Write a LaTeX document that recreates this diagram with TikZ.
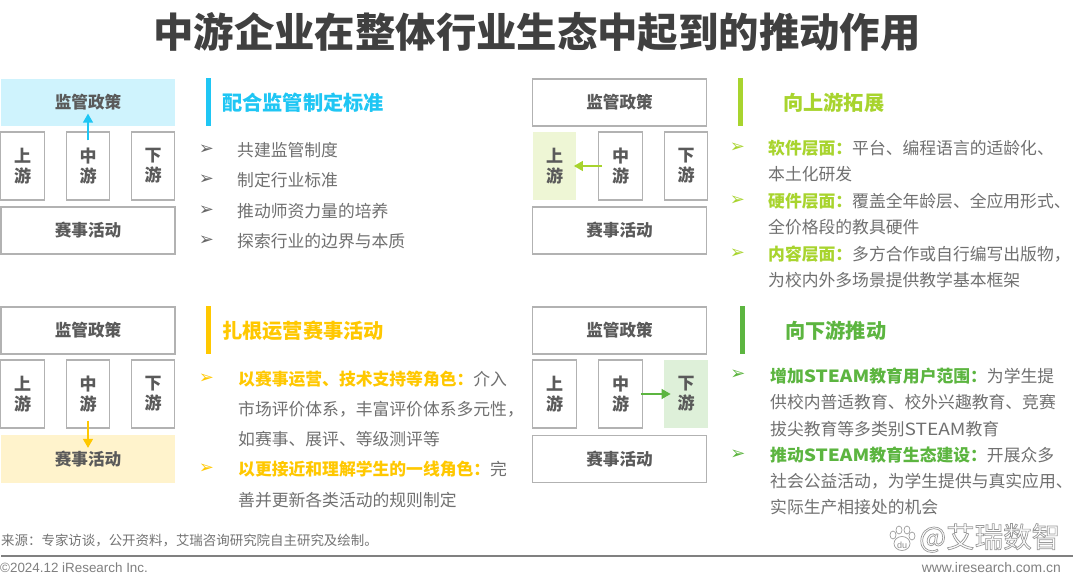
\documentclass[tikz,border=0pt]{standalone}
\usepackage{fontspec}
\setmainfont{Noto Sans CJK SC}
\newfontfamily\latinsans{Liberation Sans}
\newfontfamily\symfont{DejaVu Sans}
\newcommand{\fcolon}{\symbol{"FF1A}}
\newcommand{\fcomma}{\symbol{"FF0C}}
\newcommand{\stm}{\scalebox{1.14}[1]{STEAM}}
\definecolor{cblue}{HTML}{1FC6F4}
\definecolor{cblueL}{HTML}{CFF3FD}
\definecolor{cyel}{HTML}{FFC800}
\definecolor{cyelL}{HTML}{FFF3CC}
\definecolor{clime}{HTML}{A8D42E}
\definecolor{climeL}{HTML}{EEF6D5}
\definecolor{cgrn}{HTML}{5CB540}
\definecolor{cgrnL}{HTML}{DEF0D9}
\definecolor{ctxt}{HTML}{5A5A5A}
\definecolor{cbody}{HTML}{707070}
\usetikzlibrary{arrows.meta}
\tikzset{
  wide/.style={draw=black!30,line width=1.3pt,minimum width=174pt,minimum height=47pt,inner sep=0pt,text=ctxt,font=\fontsize{16.6}{18}\selectfont\bfseries},
  tall/.style={draw=black!30,line width=1.3pt,minimum width=43.5pt,minimum height=68pt,inner sep=0pt,text=ctxt,align=center,font=\fontsize{17}{20}\selectfont\bfseries},
  hlbox/.style={draw=none,fill=#1},
  lead/.style={line width=1.4pt,draw=#1,-{Triangle[length=9pt,width=10pt]}},
  headbar/.style={fill=#1,draw=none,inner sep=0pt,minimum width=5pt,minimum height=48pt},
  heading/.style={anchor=west,inner sep=0pt,text=#1,font=\fontsize{20.2}{22}\selectfont\bfseries},
  bullet/.style={anchor=center,inner sep=0pt,text=#1,font=\symfont\fontsize{18}{18}\selectfont},
  para/.style={anchor=west,inner sep=0pt,align=left,text=cbody,font=\fontsize{16.8}{#1}\selectfont},
  paw/.style={draw=black!38,fill=white,line width=.7pt},
}
\begin{document}
\begin{tikzpicture}[x=1pt,y=-1pt]
\useasboundingbox (0,0) rectangle (1080,577);
\fill[white] (0,0) rectangle (1080,577);
\node[inner sep=0pt,text=black!75,font=\fontsize{40.4}{44}\selectfont\bfseries] (title) at (537,32) {中游企业在整体行业生态中起到的推动作用};

% panel A
\node[wide,hlbox=cblueL] (at) at (88,102.5) {监管政策};
\node[tall] (au) at (22.5,166) {上\\游};
\node[tall] (am) at (88,166) {中\\游};
\node[tall] (ad) at (153,166) {下\\游};
\node[wide] (ab) at (88,230.5) {赛事活动};
\draw[lead=cblue] ([yshift=-9pt]am.north) -- ([yshift=13pt]at.south);
\node[headbar=cblue] (ah) at (208.5,102.5) {};
\node[heading=cblue] (aht) at (222,102.5) {配合监管制定标准};
\foreach \y/\t [count=\i] in {150/共建监管制度,180/制定行业标准,211/推动师资力量的培养,241/探索行业的边界与本质}{
  \node[bullet=black!60] (ab\i) at (206.5,\y) {➢};
  \node[para=18] (ap\i) at (237,\y) {\t};
}

% panel B
\node[wide] (bt) at (619.5,102.5) {监管政策};
\node[tall,hlbox=climeL] (bu) at (554.5,166) {上\\游};
\node[tall] (bm) at (620.5,166) {中\\游};
\node[tall] (bd) at (686,166) {下\\游};
\node[wide] (bb) at (619.5,230.5) {赛事活动};
\draw[lead=clime] ([xshift=4pt]bm.west) -- ([xshift=-3pt]bu.east);
\node[headbar=clime] (bh) at (740,102.5) {};
\node[heading=clime] (bht) at (783,102.5) {向上游拓展};
\node[bullet=clime] (bb1) at (737.5,148) {➢};
\node[bullet=clime] (bb2) at (737.5,201) {➢};
\node[bullet=clime] (bb3) at (737.5,254) {➢};
\node[para=26] (bp1) at (768,161) {\textcolor{clime}{\bfseries 软件层面\fcolon}平台、编程语言的适龄化、\\本土化研发};
\node[para=26] (bp2) at (768,214.5) {\textcolor{clime}{\bfseries 硬件层面\fcolon}覆盖全年龄层、全应用形式、\\全价格段的教具硬件};
\node[para=26] (bp3) at (768,267) {\textcolor{clime}{\bfseries 内容层面\fcolon}多方合作或自行编写出版物\fcomma\\为校内外多场景提供教学基本框架};

% panel C
\node[wide] (ct) at (88,330.5) {监管政策};
\node[tall] (cu) at (22.5,394) {上\\游};
\node[tall] (cm) at (88,394) {中\\游};
\node[tall] (cd) at (153,394) {下\\游};
\node[wide,hlbox=cyelL] (cb) at (88,459) {赛事活动};
\draw[lead=cyel] ([yshift=8pt]cm.south) -- ([yshift=-13pt]cb.north);
\node[headbar=cyel] (ch) at (208.5,330.5) {};
\node[heading=cyel] (cht) at (222,330.5) {扎根运营赛事活动};
\node[bullet=cyel] (cb1) at (206.5,379) {➢};
\node[bullet=cyel] (cb2) at (206.5,469) {➢};
\node[para=30] (cp1) at (238,409) {\textcolor{cyel}{\bfseries 以赛事运营、技术支持等角色\fcolon}介入\\市场评价体系\fcomma 丰富评价体系多元性\fcomma\\如赛事、展评、等级测评等};
\node[para=30.5] (cp2) at (238,484.5) {\textcolor{cyel}{\bfseries 以更接近和理解学生的一线角色\fcolon}完\\善并更新各类活动的规则制定};

% panel D
\node[wide] (dt) at (619.5,330.5) {监管政策};
\node[tall] (du) at (554.5,394) {上\\游};
\node[tall] (dm) at (620.5,394) {中\\游};
\node[tall,hlbox=cgrnL] (dd) at (686,394) {下\\游};
\node[wide] (db) at (619.5,459) {赛事活动};
\draw[lead=cgrn] ([xshift=-2pt]dm.east) -- ([xshift=7pt]dd.west);
\node[headbar=cgrn] (dh) at (742,330.5) {};
\node[heading=cgrn] (dht) at (785,330.5) {向下游推动};
\node[bullet=cgrn] (db1) at (738,375) {➢};
\node[bullet=cgrn] (db2) at (738,455) {➢};
\node[para=26.5] (dp1) at (770,402) {\textcolor{cgrn}{\bfseries 增加\stm 教育用户范围\fcolon}为学生提\\供校内普适教育、校外兴趣教育、竞赛\\拔尖教育等多类别\stm 教育};
\node[para=26] (dp2) at (770,481) {\textcolor{cgrn}{\bfseries 推动\stm 教育生态建设\fcolon}开展众多\\社会公益活动\fcomma 为学生提供与真实应用、\\实际生产相接处的机会};

% footer
\node[anchor=west,inner sep=0pt,text=black!55,font=\fontsize{13.45}{15}\selectfont] (src) at (1,541) {来源\fcolon 专家访谈\fcomma 公开资料\fcomma 艾瑞咨询研究院自主研究及绘制。};
\coordinate (ruleL) at (1,556); \coordinate (ruleR) at (1073,556);
\draw[black!50,line width=1.2pt] (ruleL) -- (ruleR);
\node[anchor=west,inner sep=0pt,text=black!50,font=\latinsans\fontsize{13.4}{15}\selectfont] (copy) at (0,568) {©2024.12 iResearch Inc.};
\node[anchor=east,inner sep=0pt,text=black!50,font=\latinsans\fontsize{13.9}{15}\selectfont] (web) at (1061,568) {www.iresearch.com.cn};

% watermark
\draw[paw] (902,543.5) ellipse (8pt and 7pt);
\foreach \x/\y/\a/\b in {893/535/3/4,899/530/3/4,907/530/3/4,912/536/3/4}
  \draw[paw] (\x,\y) ellipse (\a pt and \b pt);
\node[inner sep=0pt,text=black!45,font=\latinsans\fontsize{9}{9}\selectfont] (du) at (902,545) {du};
\node[anchor=west,inner sep=0pt,text=white,font=\fontsize{28.5}{30}\selectfont] (wm) at (919,538) {\special{pdf:code 2 Tr 0.7 w 0.6 G}@艾瑞数智\special{pdf:code 0 Tr 0 G}};
\end{tikzpicture}
\end{document}
